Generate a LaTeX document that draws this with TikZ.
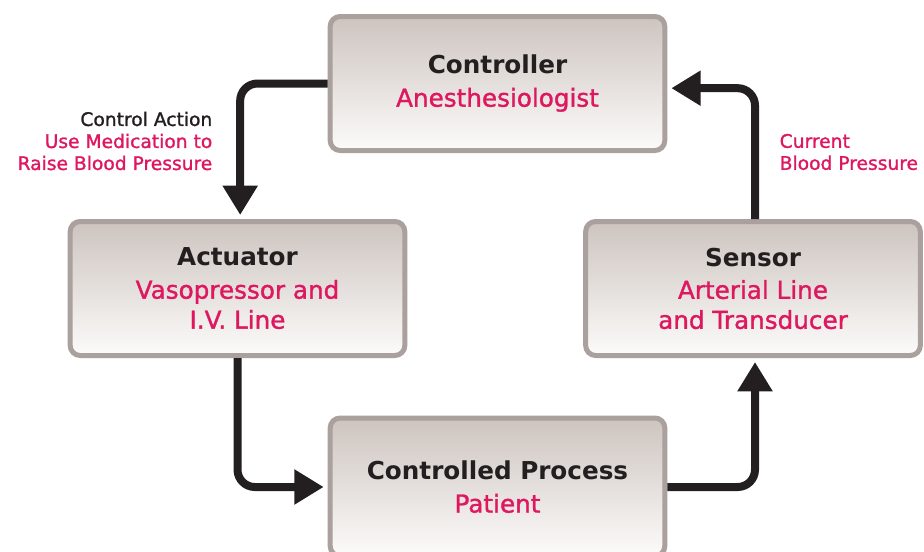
\documentclass[tikz,border=0pt]{standalone}
\usepackage{fontspec}
\setmainfont{DejaVu Sans}
\newfontfamily\medio[FakeBold=1.3]{DejaVu Sans}
\usepackage{tikz}
\usetikzlibrary{arrows.meta}

\definecolor{rojo}{RGB}{222,24,96}
\definecolor{tinta}{RGB}{35,31,32}
\definecolor{borde}{RGB}{170,160,157}
\definecolor{arriba}{RGB}{205,196,191}
\definecolor{abajo}{RGB}{252,251,250}

\begin{document}
\begin{tikzpicture}[
  x=0.75pt, y=-0.75pt,
  every node/.style={text=tinta},
  caja/.style={rectangle, rounded corners=7.5pt, draw=borde, line width=3.75pt,
    top color=arriba, bottom color=abajo, align=center,
    minimum width=251pt, minimum height=100.5pt,
    font=\fontsize{18.5}{22.5}\selectfont},
  rotulo/.style={font=\medio\fontsize{14}{16.5}\selectfont},
  flecha/.style={draw=tinta, line width=6pt, rounded corners=13pt,
    -{Triangle[width=25pt,length=22pt]}, shorten >=3pt}]
\useasboundingbox (0,0) rectangle (924,551);
\clip (0,0) rectangle (924,551);
\node[caja] (ctrl) at (497.5,83.5) {\textbf{Controller}\\[2pt]\textcolor{rojo}{\medio Anesthesiologist}};
\node[caja] (actu) at (237.5,288.5) {\textbf{Actuator}\\[2pt]\textcolor{rojo}{\medio Vasopressor and}\\\textcolor{rojo}{\medio I.V. Line}};
\node[caja] (sens) at (753,288.5) {\textbf{Sensor}\\[2pt]\textcolor{rojo}{\medio Arterial Line}\\\textcolor{rojo}{\medio and Transducer}};
\node[caja, minimum height=103.5pt] (proc) at (497.5,487) {\textbf{Controlled Process}\\[2pt]\textcolor{rojo}{\medio Patient}};
% etiquetas
\node[rotulo, align=right, anchor=east] (accion) at (217,141)
  {Control Action\\\textcolor{rojo}{Use Medication to}\\\textcolor{rojo}{Raise Blood Pressure}};
\node[rotulo, align=left, anchor=west] (medida) at (775,152)
  {\textcolor{rojo}{Current}\\\textcolor{rojo}{Blood Pressure}};
% lazo
\draw[flecha] (ctrl.west) -| ([xshift=2pt]actu.north);
\draw[flecha] (actu.south) |- (proc.west);
\draw[flecha] (proc.east) -| ([xshift=1.5pt]sens.south);
\draw[flecha] ([xshift=1.5pt]sens.north) |- ([yshift=-3.5pt]ctrl.east);
\end{tikzpicture}
\end{document}
